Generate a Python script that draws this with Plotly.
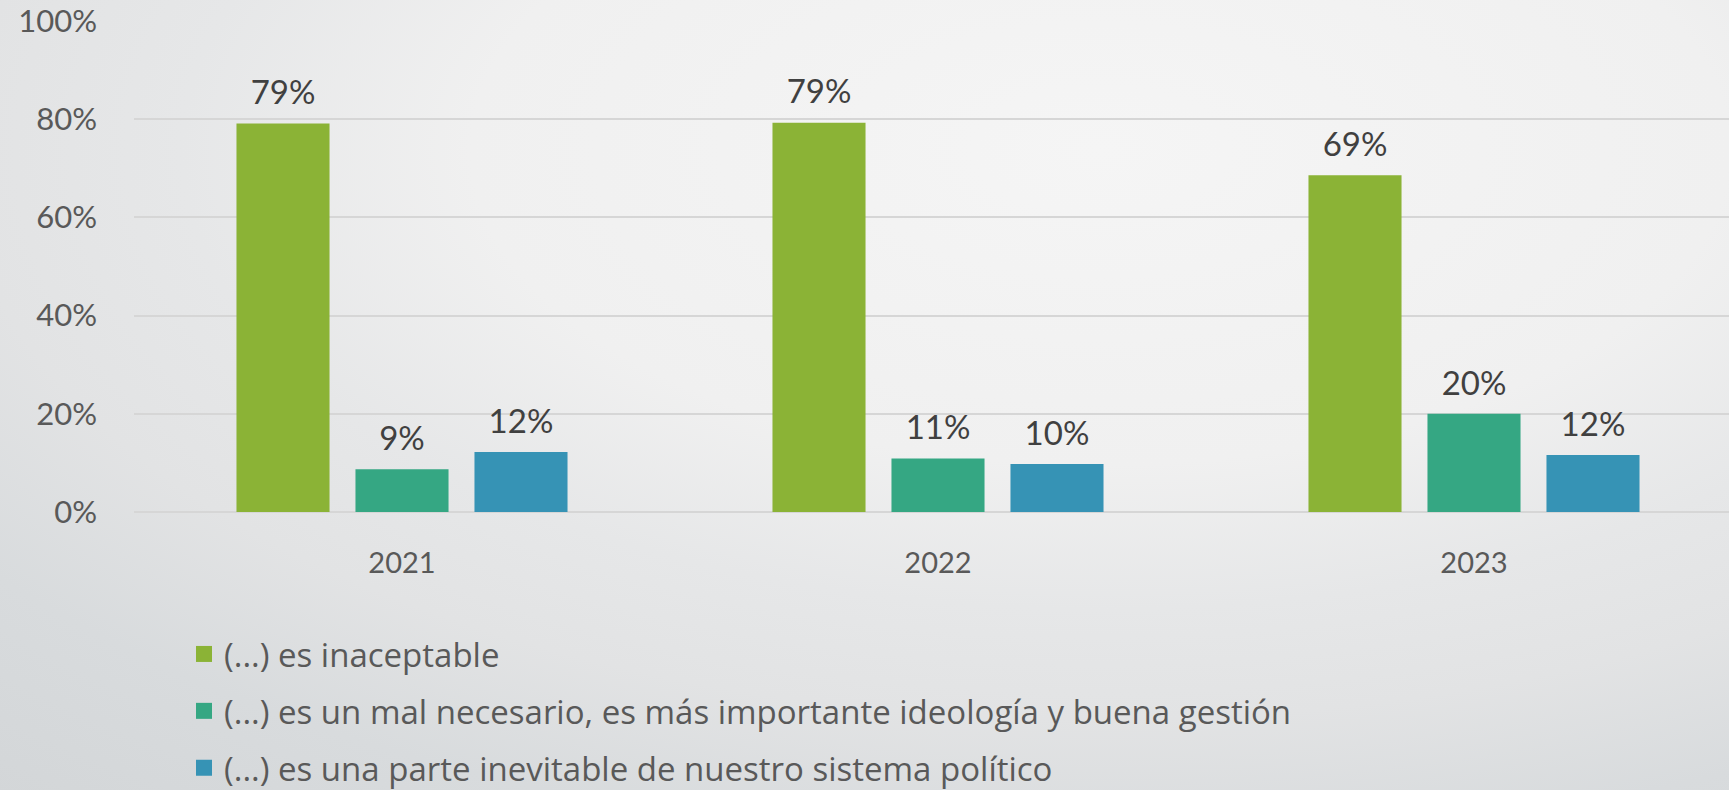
import plotly.graph_objects as go
import urllib.parse

years = ["2021", "2022", "2023"]
names = [
    "(...) es inaceptable",
    "(...) es un mal necesario, es más importante ideología y buena gestión",
    "(...) es una parte inevitable de nuestro sistema político",
]
inaceptable = [79.1, 79.3, 68.6]
mal_necesario = [8.7, 10.9, 20.0]
inevitable = [12.2, 9.8, 11.6]
series = [inaceptable, mal_necesario, inevitable]
colors = ["#8bb336", "#35a783", "#3693b5"]
y_ticks = [0, 20, 40, 60, 80, 100]
y_tick_labels = [f"{v}%" for v in y_ticks]

W, H = 1729, 790
L, R, T, B = 134, 0, 21, 278
pw, ph = W - L - R, H - T - B
NUM_FONT = "Lato"
TXT_FONT = "Open Sans"
BARGAP = 0.334

fig = go.Figure()
for i, (nm, vals, col) in enumerate(zip(names, series, colors)):
    grp = f"g{i}"
    fig.add_trace(go.Bar(
        x=years, y=vals, name=nm, marker_color=col, marker_line_width=0,
        offsetgroup=grp, alignmentgroup="a", showlegend=False, hoverinfo="skip",
    ))
    # value labels, aligned with their bars
    fig.add_trace(go.Scatter(
        x=years, y=vals, mode="markers+text", offsetgroup=grp, alignmentgroup="a",
        text=[f"{v:.0f}%" for v in vals], textposition="top center",
        textfont=dict(family=NUM_FONT, size=33, color="#404040"),
        marker=dict(size=16, opacity=0), showlegend=False, cliponaxis=False,
        hoverinfo="skip",
    ))
    # legend entry with a larger square swatch
    fig.add_trace(go.Scatter(
        x=[None], y=[None], mode="markers", name=nm, legendgroup=str(i),
        offsetgroup=grp, alignmentgroup="a",
        marker=dict(symbol="square", size=20, color=col),
    ))

svg = (
    "<svg xmlns='http://www.w3.org/2000/svg' width='1729' height='790' preserveAspectRatio='none'>"
    "<defs><radialGradient id='g' gradientUnits='userSpaceOnUse' cx='1100' cy='150' r='1700' "
    "gradientTransform='translate(1100 150) scale(1 0.5) translate(-1100 -150)'>"
    "<stop offset='0' stop-color='#f5f5f5'/>"
    "<stop offset='0.37' stop-color='#f0f0f0'/>"
    "<stop offset='0.54' stop-color='#e6e7e8'/>"
    "<stop offset='0.67' stop-color='#e2e3e4'/>"
    "<stop offset='0.82' stop-color='#d8dbdd'/>"
    "<stop offset='1' stop-color='#d3d6d8'/>"
    "</radialGradient></defs>"
    "<rect width='1729' height='790' fill='url(#g)'/></svg>"
)
src = "data:image/svg+xml;charset=utf-8," + urllib.parse.quote(svg)

fig.update_layout(
    width=W, height=H,
    margin=dict(l=L, r=R, t=T, b=B, pad=0, autoexpand=False),
    paper_bgcolor="#e3e4e5", plot_bgcolor="rgba(0,0,0,0)",
    images=[dict(source=src, xref="paper", yref="paper",
                 x=-L / pw, y=1 + T / ph, sizex=W / pw, sizey=H / ph,
                 xanchor="left", yanchor="top", sizing="stretch", layer="below")],
    barmode="group", bargap=BARGAP, bargroupgap=0.218,
    scattermode="group", scattergap=BARGAP,
    font=dict(family=TXT_FONT, color="#595959"),
    xaxis=dict(range=[-0.5, -0.5 + pw / 536], showgrid=False, showline=False,
               ticks="", tickfont=dict(family=NUM_FONT, size=29, color="#595959"),
               ticklabelstandoff=31, zeroline=False, automargin=False),
    yaxis=dict(range=[0, 100], tickmode="array", tickvals=y_ticks,
               ticktext=y_tick_labels,
               showgrid=True, gridcolor="#d6d6d6", gridwidth=1.5,
               zeroline=True, zerolinecolor="#d6d6d6", zerolinewidth=1.5,
               showline=False, ticks="", tickfont=dict(family=NUM_FONT, size=31, color="#595959"),
               ticklabelstandoff=36, automargin=False),
    legend=dict(xref="paper", yref="paper", x=(184 - L) / pw, y=-(626 - (T + ph)) / ph,
                xanchor="left", yanchor="top", orientation="v",
                font=dict(family=TXT_FONT, size=33, color="#595959"), tracegroupgap=11,
                bgcolor="rgba(0,0,0,0)", itemwidth=30, borderwidth=0),
    showlegend=True,
)

fig.write_html("out.html", config={"displayModeBar": False},
               post_script="document.body.style.margin='0';")
